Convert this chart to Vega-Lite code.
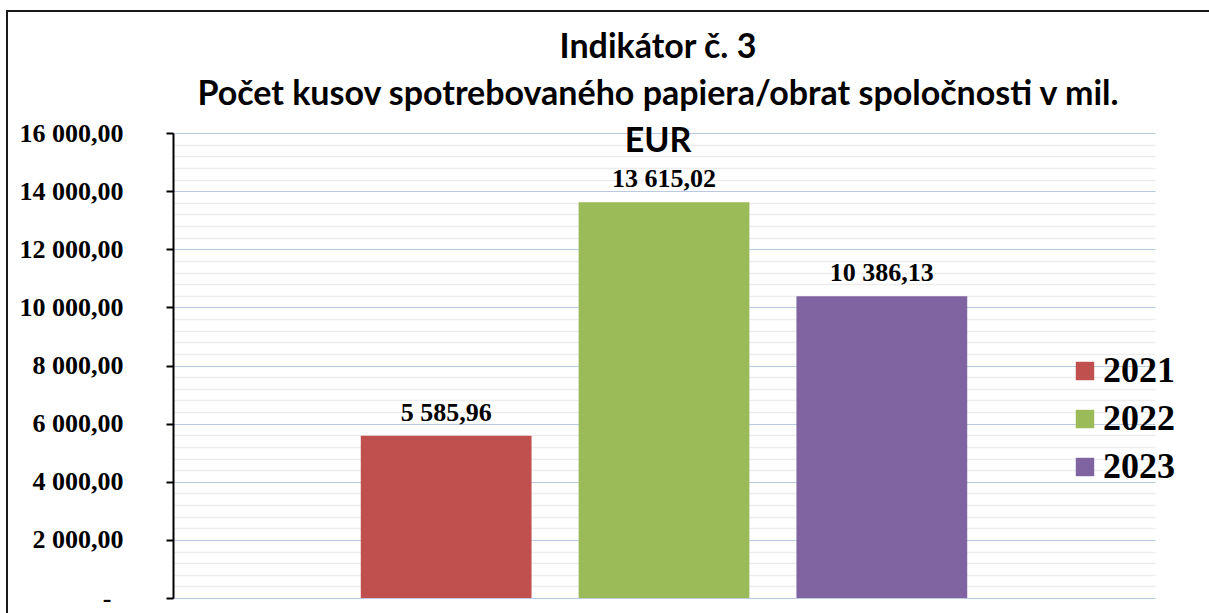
{
  "$schema": "https://vega.github.io/schema/vega-lite/v6.json",
  "width": 1204,
  "height": 604,
  "autosize": {"type": "none"},
  "padding": {"left": 7, "top": 11, "right": 0, "bottom": 0},
  "background": "white",
  "config": {
    "locale": {"number": {"decimal": ",", "thousands": " ", "grouping": [3], "currency": ["", ""]}},
    "view": {"stroke": "#1a1a1a", "strokeWidth": 2}
  },
  "title": {
    "text": ["Indikátor č. 3", "Počet kusov spotrebovaného papiera/obrat spoločnosti v mil.", "EUR"],
    "anchor": "middle",
    "frame": "group",
    "font": "Lato",
    "fontWeight": "bold",
    "fontSize": 34,
    "lineHeight": 47,
    "color": "#000000",
    "baseline": "top",
    "offset": -148,
    "dx": 49
  },
  "data": {
    "values": [
      {"rok": "2021", "hodnota": 5585.96},
      {"rok": "2022", "hodnota": 13615.02},
      {"rok": "2023", "hodnota": 10386.13}
    ]
  },
  "encoding": {
    "x": {
      "field": "rok",
      "type": "nominal",
      "axis": null,
      "scale": {"range": [166, 1148], "paddingInner": 0.216, "paddingOuter": 0.862}
    },
    "y": {
      "field": "hodnota",
      "type": "quantitative",
      "scale": {"domain": [0, 16000], "range": [587, 122], "nice": false},
      "axis": {
        "values": [0, 400, 800, 1200, 1600, 2000, 2400, 2800, 3200, 3600, 4000, 4400, 4800, 5200, 5600, 6000, 6400, 6800, 7200, 7600, 8000, 8400, 8800, 9200, 9600, 10000, 10400, 10800, 11200, 11600, 12000, 12400, 12800, 13200, 13600, 14000, 14400, 14800, 15200, 15600, 16000],
        "orient": "left",
        "offset": -166,
        "title": null,
        "grid": true,
        "gridColor": {"condition": {"test": "datum.value % 2000 === 0", "value": "#b9c9e2"}, "value": "#ededed"},
        "gridWidth": {"condition": {"test": "datum.value % 2000 === 0", "value": 1.2}, "value": 1.6},
        "domainColor": "#000000",
        "domainWidth": 2,
        "tickColor": "#000000",
        "tickWidth": 2,
        "tickSize": 7,
        "tickOpacity": {"condition": {"test": "datum.value % 2000 === 0", "value": 1}, "value": 0},
        "format": ",.2f",
        "labelExpr": "datum.value % 2000 !== 0 ? '' : (datum.value === 0 ? '-' : datum.label)",
        "labelFont": "Liberation Serif",
        "labelFontWeight": "bold",
        "labelFontSize": 26,
        "labelColor": "#000000",
        "labelPadding": {"condition": {"test": "datum.value === 0", "value": 55}, "value": 43},
        "labelOverlap": false,
        "labelBound": false,
        "labelFlush": false
      }
    }
  },
  "layer": [
    {
      "mark": {"type": "bar"},
      "encoding": {
        "color": {
          "field": "rok",
          "type": "nominal",
          "scale": {"range": ["#c0504d", "#9bbb59", "#8064a2"]},
          "legend": {
            "title": null,
            "orient": "none",
            "legendX": 1060,
            "legendY": 342,
            "symbolType": "square",
            "symbolSize": 340,
            "symbolStrokeWidth": 0,
            "symbolOpacity": 1,
            "labelFont": "Liberation Serif",
            "labelFontWeight": "bold",
            "labelFontSize": 36,
            "labelColor": "#000000",
            "labelOffset": 0,
            "rowPadding": 12,
            "padding": 0
          }
        }
      }
    },
    {
      "mark": {"type": "text", "font": "Liberation Serif", "fontWeight": "bold", "fontSize": 26, "baseline": "alphabetic", "dy": -15, "color": "#000000"},
      "encoding": {
        "text": {"field": "hodnota", "type": "quantitative", "format": ",.2f"}
      }
    }
  ]
}
